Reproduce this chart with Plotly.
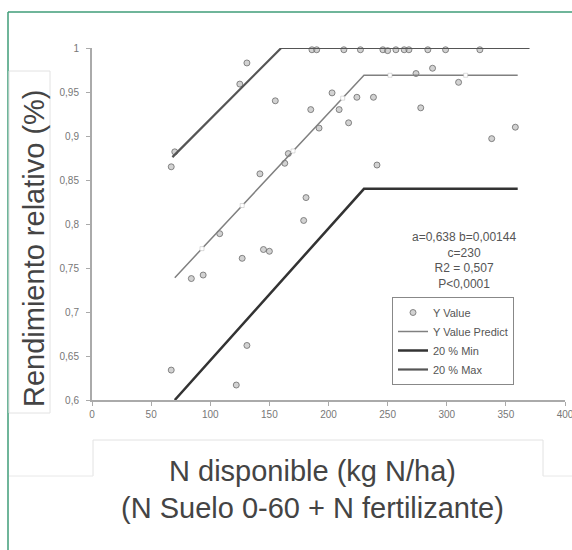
import plotly.graph_objects as go

# ---- data ----
obs_x = [67, 70, 67, 84, 94, 108, 122, 127, 125, 131, 131, 142, 145, 150, 155, 163, 166,
         179, 181, 185, 186, 192, 203, 209, 217, 224, 238, 241, 274, 278, 288, 310, 338, 358,
         190, 213, 227, 246, 250, 257, 264, 268, 284, 299, 328]
obs_y = [0.865, 0.882, 0.634, 0.738, 0.742, 0.789, 0.617, 0.761, 0.959, 0.983, 0.662, 0.857,
         0.771, 0.769, 0.940, 0.869, 0.880, 0.804, 0.830, 0.930, 0.998, 0.909, 0.949, 0.930,
         0.915, 0.944, 0.944, 0.867, 0.971, 0.932, 0.977, 0.961, 0.897, 0.910,
         0.998, 0.998, 0.998, 0.998, 0.997, 0.998, 0.998, 0.998, 0.998, 0.998, 0.998]

pred_x = [70, 230, 360]
pred_y = [0.739, 0.969, 0.969]
pred_mark_x = [93, 127, 170, 212, 252, 316]
pred_mark_y = [0.772, 0.821, 0.883, 0.943, 0.969, 0.969]

min_x = [70, 230, 360]
min_y = [0.600, 0.840, 0.840]

max_x = [68, 160, 370]
max_y = [0.876, 1.000, 1.000]

x_ticks = [0, 50, 100, 150, 200, 250, 300, 350, 400]
y_ticks = [0.6, 0.65, 0.7, 0.75, 0.8, 0.85, 0.9, 0.95, 1.0]
y_ticktext = ["0,6", "0,65", "0,7", "0,75", "0,8", "0,85", "0,9", "0,95", "1"]

stats_text = "a=0,638 b=0,00144<br>c=230<br>R2 = 0,507<br>P<0,0001"
y_title = "Rendimiento relativo (%)"
x_title1 = "N disponible (kg N/ha)"
x_title2 = "(N Suelo 0-60 + N fertilizante)"

FONT = "Liberation Sans, Arial, sans-serif"

# ---- layout geometry (pixels) ----
W, H = 572, 550
L, R, T, B = 92, 7, 48, 150
PW, PH = W - L - R, H - T - B


def px(x):
    return (x - L) / PW


def py(y):
    return (H - B - y) / PH


fig = go.Figure()

fig.add_trace(go.Scatter(
    x=obs_x, y=obs_y, mode="markers", name="Y Value",
    marker=dict(symbol="circle", size=6, color="rgba(165,165,165,0.5)",
                line=dict(color="rgba(100,100,100,0.75)", width=1)),
    cliponaxis=False))

fig.add_trace(go.Scatter(
    x=pred_x, y=pred_y, mode="lines", name="Y Value Predict",
    line=dict(color="#808080", width=1.5)))
fig.add_trace(go.Scatter(
    x=pred_mark_x, y=pred_mark_y, mode="markers", showlegend=False,
    marker=dict(symbol="square", size=4, color="white",
                line=dict(color="#bbbbbb", width=0.5))))

fig.add_trace(go.Scatter(
    x=min_x, y=min_y, mode="lines", name="20 % Min",
    line=dict(color="#333333", width=2.5)))
fig.add_trace(go.Scatter(
    x=max_x, y=max_y, mode="lines", name="20 % Max",
    line=dict(color="#555555", width=2.2), cliponaxis=False))

axis_common = dict(showgrid=False, zeroline=False, showline=True,
                   linecolor="#aaaaaa", linewidth=2, ticks="outside",
                   ticklen=4, tickcolor="#aaaaaa", tickwidth=1, automargin=False,
                   tickfont=dict(family=FONT, size=10, color="#777777"))

fig.update_xaxes(range=[0, 400], tickvals=x_ticks, ticklabeloverflow="allow", **axis_common)
fig.update_yaxes(range=[0.6, 1.0], tickvals=y_ticks, ticktext=y_ticktext,
                 ticklabelstandoff=5, **axis_common)

shapes = [
    # green frame
    dict(type="line", xref="paper", yref="paper", x0=px(8), x1=px(8), y0=py(12), y1=py(560),
         line=dict(color="#3f9c78", width=1.5)),
    dict(type="line", xref="paper", yref="paper", x0=px(8), x1=px(580), y0=py(12), y1=py(12),
         line=dict(color="#3f9c78", width=1.5)),
    # faint box round y title
    dict(type="rect", xref="paper", yref="paper", x0=px(9), x1=px(50), y0=py(71), y1=py(413),
         line=dict(color="#e2e2e2", width=1)),
    # faint box round x title
    dict(type="path", xref="paper", yref="paper",
         path=f"M {px(93)} {py(476)} L {px(93)} {py(440)} L {px(543)} {py(440)} L {px(543)} {py(476)}",
         line=dict(color="#e2e2e2", width=1)),
    dict(type="line", xref="paper", yref="paper", x0=px(9), x1=px(93), y0=py(476), y1=py(476),
         line=dict(color="#e8e8e8", width=1)),
    dict(type="line", xref="paper", yref="paper", x0=px(543), x1=px(575), y0=py(476), y1=py(476),
         line=dict(color="#e8e8e8", width=1)),
]

annotations = [
    dict(text=stats_text, xref="paper", yref="paper", x=px(464), y=py(260),
         xanchor="center", yanchor="middle",
         showarrow=False, align="center", font=dict(family=FONT, size=12, color="#555555")),
    dict(text=y_title, xref="paper", yref="paper", x=px(34), y=py(248), textangle=-90,
         xanchor="center", yanchor="middle",
         showarrow=False, font=dict(family=FONT, size=29, color="#444444")),
    dict(text=x_title1, xref="paper", yref="paper", x=px(312), y=py(471),
         xanchor="center", yanchor="middle",
         showarrow=False, font=dict(family=FONT, size=29, color="#444444")),
    dict(text=x_title2, xref="paper", yref="paper", x=px(312), y=py(508),
         xanchor="center", yanchor="middle",
         showarrow=False, font=dict(family=FONT, size=29, color="#444444")),
]

fig.update_layout(
    width=W, height=H,
    margin=dict(l=L, r=R, t=T, b=B, autoexpand=False),
    paper_bgcolor="white", plot_bgcolor="white",
    shapes=shapes, annotations=annotations,
    legend=dict(x=px(392), y=py(297), xanchor="left", yanchor="top",
                bordercolor="#888888", borderwidth=1, bgcolor="white",
                font=dict(family=FONT, size=11, color="#555555"),
                tracegroupgap=0, itemwidth=30),
)

fig.write_html("out.html")
